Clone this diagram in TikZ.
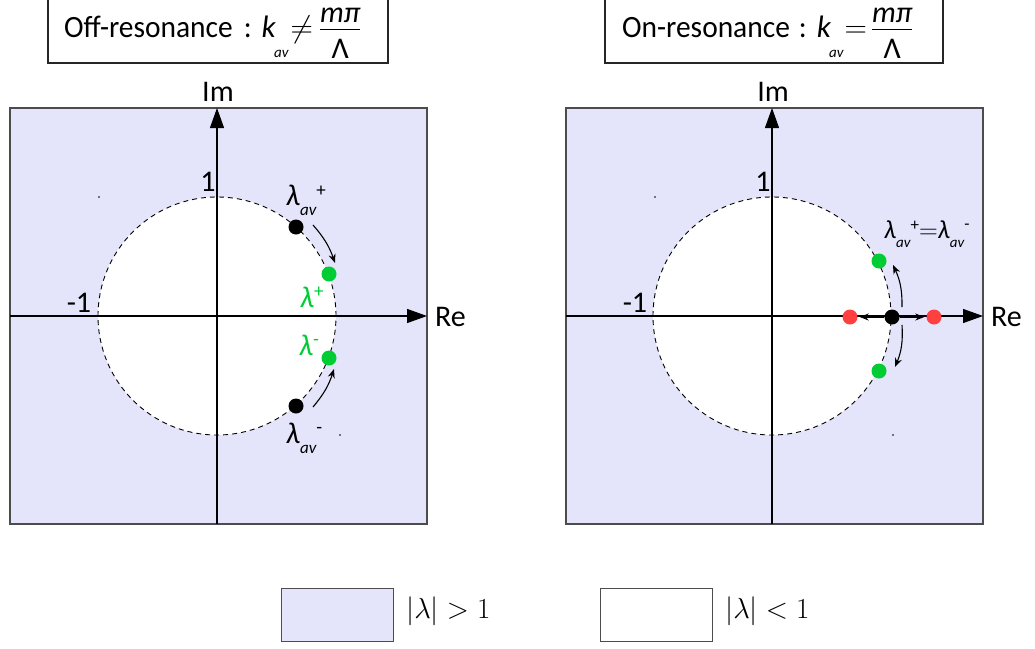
\RequirePackage{fix-cm}
\documentclass[tikz,border=0pt]{standalone}
\usepackage{fontspec}
\setmainfont{Carlito}
\usetikzlibrary{arrows.meta}
\definecolor{lav}{RGB}{228,228,250}
\definecolor{dotgreen}{RGB}{0,204,51}
\definecolor{dotred}{RGB}{255,64,64}
\newcommand{\avlow}[2]{\raisebox{#2}{\fontsize{#1}{#1}\selectfont\itshape av}}
\newcommand{\suptxt}[3]{\raisebox{#2}{\fontsize{#1}{#1}\selectfont #3}}
\newcommand{\mfrac}{$\displaystyle\frac{\raisebox{-6pt}{\fontsize{30}{30}\selectfont\itshape mπ}}{\mbox{\fontsize{30}{30}\selectfont Λ}}$}
\newcommand{\narrow}[1]{\scalebox{0.95}[1]{#1}}
\begin{document}
\begin{tikzpicture}[x=1pt,y=-1pt,
 panel/.style={fill=lav,draw=black!70,line width=1.2pt},
 unitc/.style={draw=black,fill=white,dash pattern=on 5pt off 4pt,line width=0.9pt},
 axis/.style={line width=1.2pt,-{Triangle[length=20pt,width=14pt]}},
 lbl/.style={font=\fontsize{30}{32}\selectfont,inner sep=0pt},
 dot/.style={circle,inner sep=0pt,minimum size=15pt},
 bent/.style={line width=1.1pt,-{Stealth[length=9pt,width=7pt]}},
 titlebox/.style={draw=black!85,line width=1.2pt},
 ttext/.style={font=\fontsize{31}{33}\selectfont,inner sep=0pt,anchor=base west},
 legbox/.style={draw=black!70,line width=1pt,minimum width=112pt,minimum height=53pt,inner sep=0pt},
 legtxt/.style={font=\fontsize{29}{31}\selectfont,inner sep=0pt,anchor=west},
]
\useasboundingbox (0,0) rectangle (1035,648);

% ---------- titles ----------
\draw[titlebox] (48,-5) rectangle (388,63);
\node[ttext] (t1) at (64,37) {\narrow{Off-resonance}\hspace{11pt}\narrow{:}\hspace{10pt}\textit{k}\hspace{-2pt}\avlow{15}{-20pt}\hspace{2pt}$\neq$\hspace{6pt}\mfrac};
\draw[titlebox] (605,-5) rectangle (943,63);
\node[ttext] (t2) at (622,37) {\narrow{On-resonance}\hspace{9pt}\narrow{:}\hspace{10pt}\textit{k}\hspace{-2pt}\avlow{15}{-20pt}\hspace{1pt}$=$\hspace{4pt}\mfrac};

% ---------- left panel ----------
\draw[panel] (10,108) rectangle (427,524);
\coordinate (c1) at (217,316);
\draw[unitc] (c1) circle[radius=119pt];
\coordinate (hl1) at (10,316); \coordinate (hr1) at (427,316);
\coordinate (vb1) at (217,524); \coordinate (vt1) at (217,108);
\draw[axis] (hl1) -- (hr1);
\draw[axis] (vb1) -- (vt1);
\node[lbl] (im1) at (218,92) {Im};
\node[lbl,anchor=west] (re1) at (435,317) {Re};
\node[lbl] (one1) at (208,182) {1};
\node[lbl] (mone1) at (79,303) {-1};
\fill (99,197) circle[radius=0.9pt];
\fill (340,435) circle[radius=0.9pt];

\node[dot,fill=black] (b1) at (296,227) {};
\node[dot,fill=black] (b2) at (296,406) {};
\node[dot,fill=dotgreen] (g1) at (329,274) {};
\node[dot,fill=dotgreen] (g2) at (329,358) {};
\coordinate (a1s) at (313,225); \coordinate (a1e) at (335,263);
\coordinate (a2s) at (313,407); \coordinate (a2e) at (334,369);
\draw[bent] (a1s) to[bend left=11] (a1e);
\draw[bent] (a2s) to[bend right=11] (a2e);

\node[lbl,anchor=base west] (l1) at (286,205) {\textit{λ}\avlow{17}{-10pt}\suptxt{19}{9pt}{+}};
\node[lbl,anchor=base west] (l2) at (286,443) {\textit{λ}\avlow{17}{-10pt}\suptxt{19}{10pt}{-}};
\node[lbl,anchor=base west,text=dotgreen] (l3) at (300,307) {\textit{λ}\suptxt{19}{10pt}{+}};
\node[lbl,anchor=base west,text=dotgreen] (l4) at (299,355) {\textit{λ}\suptxt{19}{10pt}{-}};

% ---------- right panel ----------
\draw[panel] (566,108) rectangle (983,524);
\coordinate (c2) at (772,316);
\draw[unitc] (c2) circle[radius=119pt];
\coordinate (hl2) at (566,316); \coordinate (hr2) at (983,316);
\coordinate (vb2) at (772,524); \coordinate (vt2) at (772,108);
\draw[axis] (hl2) -- (hr2);
\draw[axis] (vb2) -- (vt2);
\node[lbl] (im2) at (773,92) {Im};
\node[lbl,anchor=west] (re2) at (991,317) {Re};
\node[lbl] (one2) at (763,182) {1};
\node[lbl] (mone2) at (635,303) {-1};
\fill (655,197) circle[radius=0.9pt];
\fill (893,435) circle[radius=0.9pt];

\node[dot,fill=dotgreen] (g3) at (879,261) {};
\node[dot,fill=dotgreen] (g4) at (879,371) {};
\node[dot,fill=dotred] (r1) at (850,317) {};
\node[dot,fill=dotred] (r2) at (934,317) {};
\node[dot,fill=black] (b3) at (892,317) {};
\draw[bent,shorten >=2pt] (b3) -- (r1);
\draw[bent,shorten >=2pt] (b3) -- (r2);
\coordinate (a3s) at (902,307); \coordinate (a3e) at (893,265);
\coordinate (a4s) at (902,325); \coordinate (a4e) at (895,367);
\draw[bent] (a3s) to[bend right=13] (a3e);
\draw[bent] (a4s) to[bend left=13] (a4e);
\node[lbl,anchor=base west,font=\fontsize{26}{28}\selectfont] (l5) at (884,238)
  {\textit{λ}\avlow{15}{-9pt}\suptxt{17}{8pt}{+}$=$\textit{λ}\avlow{15}{-9pt}\suptxt{17}{9pt}{-}};

% ---------- legend ----------
\node[legbox,fill=lav] (k1) at (337,615) {};
\node[legtxt] (k1t) at (406,611) {$|\lambda| > 1$};
\node[legbox,fill=white] (k2) at (656.5,615) {};
\node[legtxt] (k2t) at (725,611) {$|\lambda| < 1$};
\end{tikzpicture}
\end{document}
